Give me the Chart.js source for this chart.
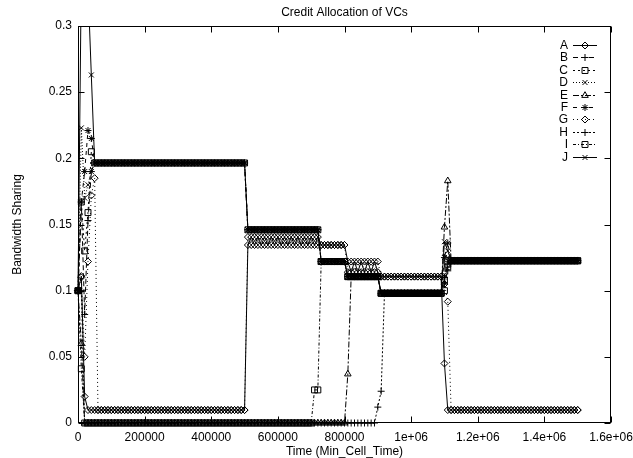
<!DOCTYPE html>
<html><head><meta charset="utf-8">
<script src="https://cdn.jsdelivr.net/npm/chart.js@4.4.1/dist/chart.umd.min.js"></script>
<style>html,body{margin:0;padding:0;background:#fff;}#wrap{width:633px;height:458px;}</style>
</head><body><div id="wrap"><canvas id="c" width="633" height="458"></canvas></div>
<script>
const chartTitle = 'Credit Allocation of VCs';
const xAxisTitle = 'Time (Min_Cell_Time)';
const yAxisTitle = 'Bandwidth Sharing';
const seriesNames = ['A','B','C','D','E','F','G','H','I','J'];
const xTickLabels = ['0','200000','400000','600000','800000','1e+06','1.2e+06','1.4e+06','1.6e+06'];
const yTickLabels = ['0','0.05','0.1','0.15','0.2','0.25','0.3'];

// sample times (Min_Cell_Time)
const times = [
0,10000,20000,30000,40000,50000,60000,70000,80000,90000,
100000,110000,120000,130000,140000,150000,160000,170000,180000,190000,
200000,210000,220000,230000,240000,250000,260000,270000,280000,290000,
300000,310000,320000,330000,340000,350000,360000,370000,380000,390000,
400000,410000,420000,430000,440000,450000,460000,470000,480000,490000,
500000,510000,520000,530000,540000,550000,560000,570000,580000,590000,
600000,610000,620000,630000,640000,650000,660000,670000,680000,690000,
700000,710000,720000,730000,740000,750000,760000,770000,780000,790000,
800000,810000,820000,830000,840000,850000,860000,870000,880000,890000,
900000,910000,920000,930000,940000,950000,960000,970000,980000,990000,
1000000,1010000,1020000,1030000,1040000,1050000,1060000,1070000,1080000,1090000,
1100000,1110000,1120000,1130000,1140000,1150000,1160000,1170000,1180000,1190000,
1200000,1210000,1220000,1230000,1240000,1250000,1260000,1270000,1280000,1290000,
1300000,1310000,1320000,1330000,1340000,1350000,1360000,1370000,1380000,1390000,
1400000,1410000,1420000,1430000,1440000,1450000,1460000,1470000,1480000,1490000,
1500000];

// values; [value, n] = value held for n consecutive samples
const runsA = [0.1, 0.111, 0.02, [0.0098,48],
  0.1345,0.1405,0.1345,0.1405,0.1345,0.1405,0.1345,0.1405,0.1345,0.1405,0.1345,
  0.1405,0.1345,0.1405,0.1345,0.1405,0.1345,0.1405,0.1345,0.1405,0.1345,0.1405,
  [0.1345,8],
  0.122,0.114,0.122,0.114,0.122,0.114,0.122,0.114,0.122,0.114,
  [0.1106,19], 0.045, [0.0098,40]];
const runsB = [0.1, 0.167, 0.082, 0.153, 0.19, [0.1965,46], [0.146,22], [0.122,8], [0.1106,10], [0.098,19], 0.11, 0.12, [0.1226,39]];
const runsC = [0.1, 0.167, 0.13, 0.159, 0.205, [0.1965,46], [0.146,22], [0.122,8], [0.1106,10], [0.098,19], 0.108, 0.12, [0.1226,39]];
const runsD = [0.1, 0.223, 0.17, 0.18, 0.19, [0.1965,46], [0.146,22], [0.122,8], [0.1106,10], [0.098,19], 0.112, 0.125, [0.1226,39]];
const runsE = [0.1, 0.06, [0,79], 0.037, [0.1106,9], [0.098,19], 0.148, 0.183, [0.1226,39]];
const runsF = [0.1, 0.167, 0.19, 0.221, 0.215, [0.1965,46], [0.146,22], [0.122,8], [0.1106,10], [0.098,19], 0.125, 0.136, [0.1226,39]];
const runsG = [0.1, 0.11, 0.05, 0.122, 0.172, 0.185, [0.0098,45],
  0.1405,0.1345,0.1405,0.1345,0.1405,0.1345,0.1405,0.1345,0.1405,0.1345,0.1405,
  0.1345,0.1405,0.1345,0.1405,0.1345,0.1405,0.1345,0.1405,0.1345,0.1405,0.1345,
  [0.1345,8],
  0.114,0.122,0.114,0.122,0.114,0.122,0.114,0.122,0.114,0.122,
  [0.1106,19], 0.105, 0.0917, [0.0098,39]];
const runsH = [0.1, 0.1, [0,88], 0.012, 0.024, [0.098,18], 0.105, 0.115, [0.1226,39]];
const runsI = [0.1, 0.041, [0,69], 0.025, 0.025, [0.122,8], [0.1106,10], [0.098,19], 0.1, 0.118, [0.1226,39]];
const runsJ = [0.1, 0.34, 0.36, 0.33, 0.263, [0.1965,46], [0.146,22], [0.122,8], [0.1106,10], [0.098,19], 0.137, 0.13, [0.1226,39]];

const allRuns = [runsA, runsB, runsC, runsD, runsE, runsF, runsG, runsH, runsI, runsJ];

// drawing styles (gnuplot monochrome look)
const styles = [
  {dash: [], point: 'rectRot', r: 3.5},
  {dash: [5,3], point: 'cross', r: 3.5},
  {dash: [2,3], point: 'rect', r: 4.2},
  {dash: [1,2], point: 'crossRot', r: 3.5},
  {dash: [6,2,2,2], point: 'triangle', r: 3.8},
  {dash: [4,4], point: 'star', r: 3.5},
  {dash: [1,3], point: 'rectRot', r: 3.5},
  {dash: [2,2], point: 'cross', r: 3.5},
  {dash: [3,2,1,2], point: 'rect', r: 4.2},
  {dash: [], point: 'crossRot', r: 3.5}
];

function expand(runs) {
  const out = [];
  runs.forEach(item => {
    if (Array.isArray(item)) { for (let k = 0; k < item[1]; k++) out.push(item[0]); }
    else out.push(item);
  });
  if (out.length !== times.length) console.warn('length mismatch', out.length);
  return out;
}

const datasets = allRuns.map((runs, i) => {
  const vals = expand(runs);
  return {
    label: seriesNames[i],
    data: times.map((t, k) => ({x: t, y: vals[k]})),
    borderColor: '#000',
    borderWidth: 1,
    borderDash: styles[i].dash,
    pointStyle: styles[i].point,
    pointRadius: styles[i].r,
    pointBorderWidth: 1,
    pointBorderColor: '#000',
    pointBackgroundColor: 'rgba(0,0,0,0)',
    tension: 0,
    fill: false,
    clip: {left: 10, top: 0, right: 10, bottom: 10}
  };
});

const FONT = '"Liberation Sans", Arial, Helvetica, sans-serif';

const framePlugin = {
  id: 'frame',
  afterDatasetsDraw(chart) {
    const {ctx, chartArea: a, scales} = chart;
    const L = Math.round(a.left) + 0.5, R = Math.round(a.right) - 0.5;
    const T = Math.round(a.top) + 0.5, B = Math.round(a.bottom) - 0.5;
    ctx.save();
    ctx.setLineDash([]);
    ctx.strokeStyle = '#000';
    ctx.lineWidth = 1;
    ctx.beginPath();
    scales.x.ticks.forEach(tk => {
      const px = Math.round(scales.x.getPixelForValue(tk.value)) + 0.5;
      ctx.moveTo(px, B); ctx.lineTo(px, B - 6);
      ctx.moveTo(px, T); ctx.lineTo(px, T + 6);
    });
    scales.y.ticks.forEach(tk => {
      const py = Math.round(scales.y.getPixelForValue(tk.value)) + 0.5;
      ctx.moveTo(L, py); ctx.lineTo(L + 6, py);
      ctx.moveTo(R, py); ctx.lineTo(R - 6, py);
    });
    ctx.stroke();
    ctx.strokeRect(L, T, R - L, B - T);
    ctx.restore();
  },
  afterDraw(chart) {
    const {ctx} = chart;
    ctx.save();
    ctx.font = '12px ' + FONT;
    ctx.textAlign = 'right';
    ctx.textBaseline = 'middle';
    chart.data.datasets.forEach((ds, i) => {
      const y = Math.round(45 + i * 12.4) + 0.5;
      ctx.fillStyle = '#000';
      ctx.fillText(ds.label, 568, y);
      ctx.strokeStyle = '#000';
      ctx.lineWidth = 1;
      ctx.setLineDash(ds.borderDash || []);
      ctx.beginPath();
      ctx.moveTo(573, y); ctx.lineTo(597, y);
      ctx.stroke();
      ctx.setLineDash([]);
      ctx.fillStyle = 'rgba(0,0,0,0)';
      Chart.helpers.drawPoint(ctx, {pointStyle: ds.pointStyle, radius: ds.pointRadius, rotation: 0, borderWidth: 1}, 585, y);
    });
    ctx.restore();
  }
};

new Chart(document.getElementById('c'), {
  type: 'line',
  data: {datasets},
  options: {
    responsive: false,
    animation: false,
    devicePixelRatio: 1,
    layout: {padding: 0},
    font: {family: FONT},
    plugins: {
      legend: {display: false},
      tooltip: {enabled: false},
      title: {
        display: true, text: chartTitle, fullSize: false, color: '#000',
        font: {family: FONT, size: 12, weight: 'normal', lineHeight: 1.2},
        padding: {top: 5, bottom: 6.6}
      }
    },
    scales: {
      x: {
        type: 'linear', min: 0, max: 1600000,
        grid: {display: false, drawTicks: false},
        border: {display: false},
        ticks: {
          stepSize: 200000, autoSkip: false, maxRotation: 0, padding: 7, color: '#000',
          font: {family: FONT, size: 12},
          callback: (v, i) => xTickLabels[i]
        },
        title: {display: true, text: xAxisTitle, color: '#000', font: {family: FONT, size: 12, lineHeight: 1}, padding: {top: 0, bottom: 0}},
        afterFit: s => { s.height = 35; s.paddingLeft = 0; s.paddingRight = 22; }
      },
      y: {
        min: 0, max: 0.3,
        grid: {display: false, drawTicks: false},
        border: {display: false},
        ticks: {
          stepSize: 0.05, autoSkip: false, padding: 6, color: '#000',
          font: {family: FONT, size: 12},
          callback: (v, i) => yTickLabels[i]
        },
        title: {display: true, text: yAxisTitle, color: '#000', font: {family: FONT, size: 12, lineHeight: 1}, padding: {top: 12, bottom: 0}},
        afterFit: s => { s.width = 78; s.paddingTop = 0; s.paddingBottom = 0; }
      }
    }
  },
  plugins: [framePlugin]
});
</script>
</body></html>
